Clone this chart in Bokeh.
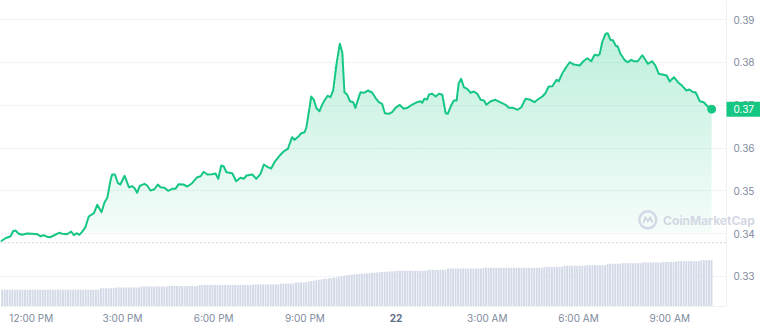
import numpy as np
from bokeh.plotting import figure
from bokeh.models import Range1d, FixedTicker, Label
from bokeh.embed import file_html
from bokeh.resources import INLINE

# ---- data -------------------------------------------------------------
# time in hours since 12:00 PM (day 21)
hours = [
    -1.01, -0.85, -0.68, -0.60, -0.52, -0.41, -0.30, -0.14, 0.03, 0.19,
    0.30, 0.41, 0.52, 0.63, 0.74, 0.91, 1.02, 1.18, 1.31, 1.40,
    1.49, 1.58, 1.67, 1.78, 1.89, 2.06, 2.17, 2.31, 2.41, 2.50,
    2.61, 2.66, 2.75, 2.85, 2.93, 3.07, 3.21, 3.32, 3.40, 3.48,
    3.57, 3.72, 3.81, 3.92, 4.05, 4.16, 4.25, 4.38, 4.50, 4.64,
    4.74, 4.85,
    5.00, 5.13, 5.29, 5.46, 5.57, 5.67, 5.79, 5.95, 6.06, 6.15,
    6.25, 6.33, 6.42, 6.61, 6.74, 6.88, 6.99, 7.08, 7.27, 7.40,
    7.54, 7.65, 7.78, 7.89, 8.00, 8.11, 8.20, 8.31, 8.44, 8.58,
    8.66, 8.80, 8.88, 8.99, 9.05, 9.13, 9.21, 9.29, 9.38, 9.48,
    9.57, 9.68, 9.75, 9.84, 9.93, 10.04, 10.15, 10.23, 10.30, 10.39,
    10.48, 10.59, 10.66, 10.83, 10.94, 11.07, 11.21,
    11.32, 11.43, 11.54, 11.63, 11.76, 11.87, 11.98, 12.12, 12.25, 12.37,
    12.53, 12.69, 12.80, 12.86, 12.93, 13.02, 13.08, 13.19, 13.30, 13.41,
    13.52, 13.63, 13.70, 13.81, 13.90, 13.99, 14.06, 14.14, 14.23, 14.34,
    14.45, 14.56, 14.67, 14.78, 14.89, 14.97, 15.11, 15.27, 15.38, 15.49,
    15.60, 15.71, 15.85, 16.00, 16.12, 16.26, 16.42, 16.55, 16.66, 16.81,
    16.91, 17.02, 17.14, 17.28, 17.35, 17.46, 17.61, 17.71, 17.85, 18.04,
    18.16, 18.29, 18.42, 18.53, 18.64, 18.70, 18.78, 18.89, 18.96, 19.05,
    19.14, 19.22, 19.29, 19.38, 19.51, 19.62, 19.73, 19.84, 19.95, 20.10,
    20.20, 20.28, 20.42, 20.53, 20.64, 20.79, 20.90, 21.00, 21.14, 21.27,
    21.41, 21.55, 21.65, 21.77, 21.85, 21.99, 22.12, 22.25, 22.38,
]
price = [
    0.33817, 0.33894, 0.33941, 0.34057, 0.34074, 0.33997, 0.33973, 0.34004, 0.33997, 0.33987,
    0.33941, 0.33964, 0.33926, 0.33917, 0.33957, 0.34020, 0.33997, 0.33987, 0.34050, 0.33964,
    0.34011, 0.33973, 0.34043, 0.34151, 0.34400, 0.34478, 0.34674, 0.34501, 0.34734, 0.34837,
    0.35257, 0.35381, 0.35381, 0.35178, 0.35148, 0.35351, 0.35085, 0.35108, 0.35061, 0.34954,
    0.35117, 0.35164, 0.35124, 0.35008, 0.35038, 0.35148, 0.35085, 0.35071, 0.35000, 0.35047,
    0.35047, 0.35155,
    0.35148, 0.35101, 0.35178, 0.35318, 0.35341, 0.35444, 0.35381, 0.35388, 0.35404, 0.35281,
    0.35591, 0.35568, 0.35435, 0.35411, 0.35225, 0.35304, 0.35281, 0.35358, 0.35381, 0.35281,
    0.35397, 0.35615, 0.35552, 0.35521, 0.35668, 0.35771, 0.35848, 0.35925, 0.35981, 0.36252,
    0.36191, 0.36275, 0.36345, 0.36369, 0.36485, 0.36836, 0.37202, 0.37132, 0.36929, 0.36859,
    0.37015, 0.37149, 0.37219, 0.37186, 0.37342, 0.37966, 0.38433, 0.38237, 0.37303, 0.37249,
    0.37092, 0.37069, 0.36938, 0.37303, 0.37289, 0.37342, 0.37296,
    0.37172, 0.37069, 0.37032, 0.36812, 0.36798, 0.36836, 0.36938, 0.37008, 0.36915, 0.36938,
    0.37015, 0.37069, 0.37092, 0.37055, 0.37149, 0.37132, 0.37249, 0.37265, 0.37202, 0.37265,
    0.37242, 0.36812, 0.36798, 0.36992, 0.37109, 0.37109, 0.37513, 0.37615, 0.37419, 0.37382,
    0.37289, 0.37319, 0.37265, 0.37125, 0.37109, 0.37008, 0.37092, 0.37125, 0.37085, 0.37046,
    0.37008, 0.36938, 0.36938, 0.36892, 0.36952, 0.37149, 0.37125, 0.37069, 0.37132, 0.37202,
    0.37279, 0.37436, 0.37443, 0.37592, 0.37559, 0.37732, 0.37903, 0.38003, 0.37949, 0.37926,
    0.38026, 0.38096, 0.38026, 0.38176, 0.38159, 0.38199, 0.38470, 0.38666, 0.38680, 0.38526,
    0.38510, 0.38393, 0.38370, 0.38199, 0.38059, 0.38003, 0.38059, 0.38026, 0.38026, 0.38166,
    0.38059, 0.37966, 0.38026, 0.37926, 0.37732, 0.37709, 0.37693, 0.37552, 0.37653, 0.37536,
    0.37452, 0.37342, 0.37366, 0.37303, 0.37303, 0.37092, 0.37069, 0.36969, 0.36906,
]
assert len(hours) == len(price)

open_price = 0.3379
price_label = "0.37"

# 5-minute volume bars (M USD, rolling 24h), first bar starts at 11:00 AM
vol_start = -1.0
volume = [
    90, 90, 90, 90, 90, 90, 90, 90, 90, 90, 90, 90,
    90, 90, 90, 90, 90, 90, 90, 90, 90, 90, 90, 90,
    90, 90, 90, 90, 90, 90, 90, 90, 90, 90, 90, 90,
    90, 90, 90, 99, 99, 99, 99, 99, 99, 103, 103, 103,
    103, 103, 103, 103, 103, 103, 103, 108, 108, 108, 108, 108,
    108, 108, 108, 108, 108, 108, 111, 111, 111, 111, 111, 111,
    111, 111, 111, 111, 111, 111, 116, 116, 116, 116, 116, 116,
    116, 116, 116, 116, 116, 116, 116, 116, 116, 116, 116, 116,
    116, 116, 116, 119, 119, 119, 119, 119, 119, 119, 119, 119,
    119, 119, 124, 124, 124, 124, 124, 124, 130, 130, 130, 130,
    131, 134, 137, 139, 142, 144, 146, 149, 151, 153, 155, 157,
    157, 160, 163, 166, 169, 170, 172, 174, 175, 176, 177, 178,
    180, 181, 182, 183, 184, 185, 186, 187, 188, 189, 190, 190,
    193, 193, 193, 193, 193, 193, 193, 193, 193, 193, 193, 193,
    198, 198, 198, 198, 198, 198, 198, 198, 205, 205, 205, 205,
    205, 205, 205, 205, 205, 205, 205, 205, 205, 205, 209, 209,
    209, 209, 209, 209, 209, 209, 209, 209, 209, 209, 209, 209,
    209, 209, 209, 209, 209, 209, 209, 209, 209, 209, 214, 214,
    214, 214, 214, 214, 214, 214, 220, 220, 220, 220, 220, 220,
    220, 220, 220, 223, 223, 223, 223, 223, 223, 223, 223, 231,
    231, 231, 231, 231, 231, 234, 234, 234, 234, 234, 234, 234,
    234, 238, 238, 238, 238, 238, 238, 238, 238, 241, 241, 241,
    241, 241, 241, 245, 245, 245, 245, 245, 245, 245, 245, 245,
    250, 250, 250, 250, 250,
]

y_ticks = [0.33, 0.34, 0.35, 0.36, 0.37, 0.38, 0.39]
x_ticks = [0, 3, 6, 9, 15, 18, 21]
x_labels = ["12:00 PM", "3:00 PM", "6:00 PM", "9:00 PM", "3:00 AM", "6:00 AM", "9:00 AM"]
day_tick = 12
day_label = "22"

# ---- layout / styling ----------------------------------------------------
GREEN = "#16c784"
GREY_TXT = "#808a9d"
GRID = "#e4e8ee"
AXLINE = "#eff2f5"
FONT = "Inter"

PX_PER_H = 30.4        # horizontal scale (pixels per hour)
PX_PER_P = 4283.0      # vertical scale (pixels per price unit)
W, H = 760, 327
X0 = -1.013            # time at left edge
Y1 = 0.39444           # price at top edge
X1 = X0 + W / PX_PER_H
Y0 = Y1 - H / PX_PER_P
X_AX = X0 + 726 / PX_PER_H      # where the price axis sits
Y_AX = Y1 - 306 / PX_PER_P      # where the time axis sits
VOL_PER_PX = 5.4

def px2x(px):
    return X0 + px / PX_PER_H

def px2y(py):
    return Y1 - py / PX_PER_P

p = figure(width=W, height=H, output_backend="svg", toolbar_location=None,
           x_range=Range1d(X0, X1), y_range=Range1d(Y0, Y1),
           y_axis_location="right",
           min_border_left=0, min_border_top=0, min_border_right=0, min_border_bottom=0,
           background_fill_color="white", border_fill_color="white")
p.outline_line_color = None

yt = FixedTicker(ticks=y_ticks)
p.yaxis.ticker = yt
p.yaxis.fixed_location = X_AX
p.yaxis.bounds = (Y_AX, Y1)
p.ygrid.ticker = yt
p.ygrid.grid_line_color = GRID
p.ygrid.grid_line_dash = "2 2"
try:
    p.ygrid.cross_bounds = (X0, X_AX)
except Exception:
    pass
p.xgrid.grid_line_color = None

p.xaxis.ticker = FixedTicker(ticks=x_ticks)
p.xaxis.major_label_overrides = {t: l for t, l in zip(x_ticks, x_labels)}
p.xaxis.fixed_location = Y_AX
p.xaxis.bounds = (X0, X_AX)

for ax in (p.xaxis, p.yaxis):
    ax.major_tick_line_color = None
    ax.minor_tick_line_color = None
    ax.major_tick_out = 0
    ax.major_tick_in = 0
    ax.minor_tick_out = 0
    ax.minor_tick_in = 0
    ax.axis_line_color = AXLINE
    ax.major_label_text_font = FONT
    ax.major_label_text_font_size = "10px"
    ax.major_label_text_color = GREY_TXT
p.yaxis.major_label_standoff = 7
p.xaxis.major_label_standoff = 5

# volume bars on their own scale (zero at the time axis)
p.extra_y_ranges = {"vol": Range1d(-(H - 306) * VOL_PER_PX, 306 * VOL_PER_PX)}
bar_x = vol_start + (np.arange(len(volume)) + 0.5) / 12.0
p.vbar(x=bar_x, top=volume, bottom=0, width=0.75 / 12.0, y_range_name="vol",
       fill_color="#d3d9e7", line_color=None)

# gradient area under the price line: non-overlapping horizontal bands,
# each with its own opacity (stronger toward the top)
pr = np.array(price)
band = 4 / PX_PER_P
fill_floor = px2y(232)
lo = fill_floor
while lo < pr.max():
    hi = lo + band
    mid = 0.5 * (lo + hi)
    a = max(0.0, 0.145 + 5.25 * (mid - 0.36))
    top = np.clip(pr, lo, hi)
    p.varea(x=hours, y1=np.full(len(pr), lo), y2=top, fill_color=GREEN, fill_alpha=a)
    lo = hi

# opening price reference (dotted, up to the price axis)
p.segment(x0=[X0], x1=[X_AX], y0=[open_price], y1=[open_price],
          line_color="#a6adbf", line_dash="1 3", line_width=1)

p.line(hours, price, line_color=GREEN, line_width=2, line_join="round")
p.scatter([hours[-1]], [price[-1]], size=8, color=GREEN)

# current price tag on the price axis
p.rect(x=[px2x(743)], y=[price[-1]], width=34 / PX_PER_H, height=15 / PX_PER_P,
       fill_color=GREEN, line_color=None, level="overlay")
p.add_layout(Label(x=px2x(733), y=price[-1], text=price_label, text_align="left",
                   text_baseline="middle", text_color="white", text_font=FONT,
                   text_font_size="10px", level="overlay"))

# bold day label on the time axis
p.add_layout(Label(x=day_tick, y=Y_AX, y_offset=-11, text=day_label, text_align="center",
                   text_baseline="middle", text_color="#616e85", text_font=FONT,
                   text_font_size="10px", text_font_style="bold", level="overlay"))

# watermark
WM = "#d3d8e4"
p.scatter([px2x(647.3)], [px2y(219.3)], marker="circle", size=17, fill_color=None,
          line_color=WM, line_width=2.5)
mx = [647.3 + d for d in (-4.5, -2.5, 0, 2.5, 4.5)]
my = [219.3 + d for d in (3.5, -2.5, 1.5, -2.5, 2.5)]
p.line([px2x(v) for v in mx], [px2y(v) for v in my], line_color=WM, line_width=2,
       line_join="round")
p.add_layout(Label(x=px2x(662.5), y=px2y(220), text="CoinMarketCap", text_align="left",
                   text_baseline="middle", text_color=WM, text_font=FONT,
                   text_font_size="12px", text_font_style="bold"))

open("out.html", "w").write(file_html(p, INLINE))
